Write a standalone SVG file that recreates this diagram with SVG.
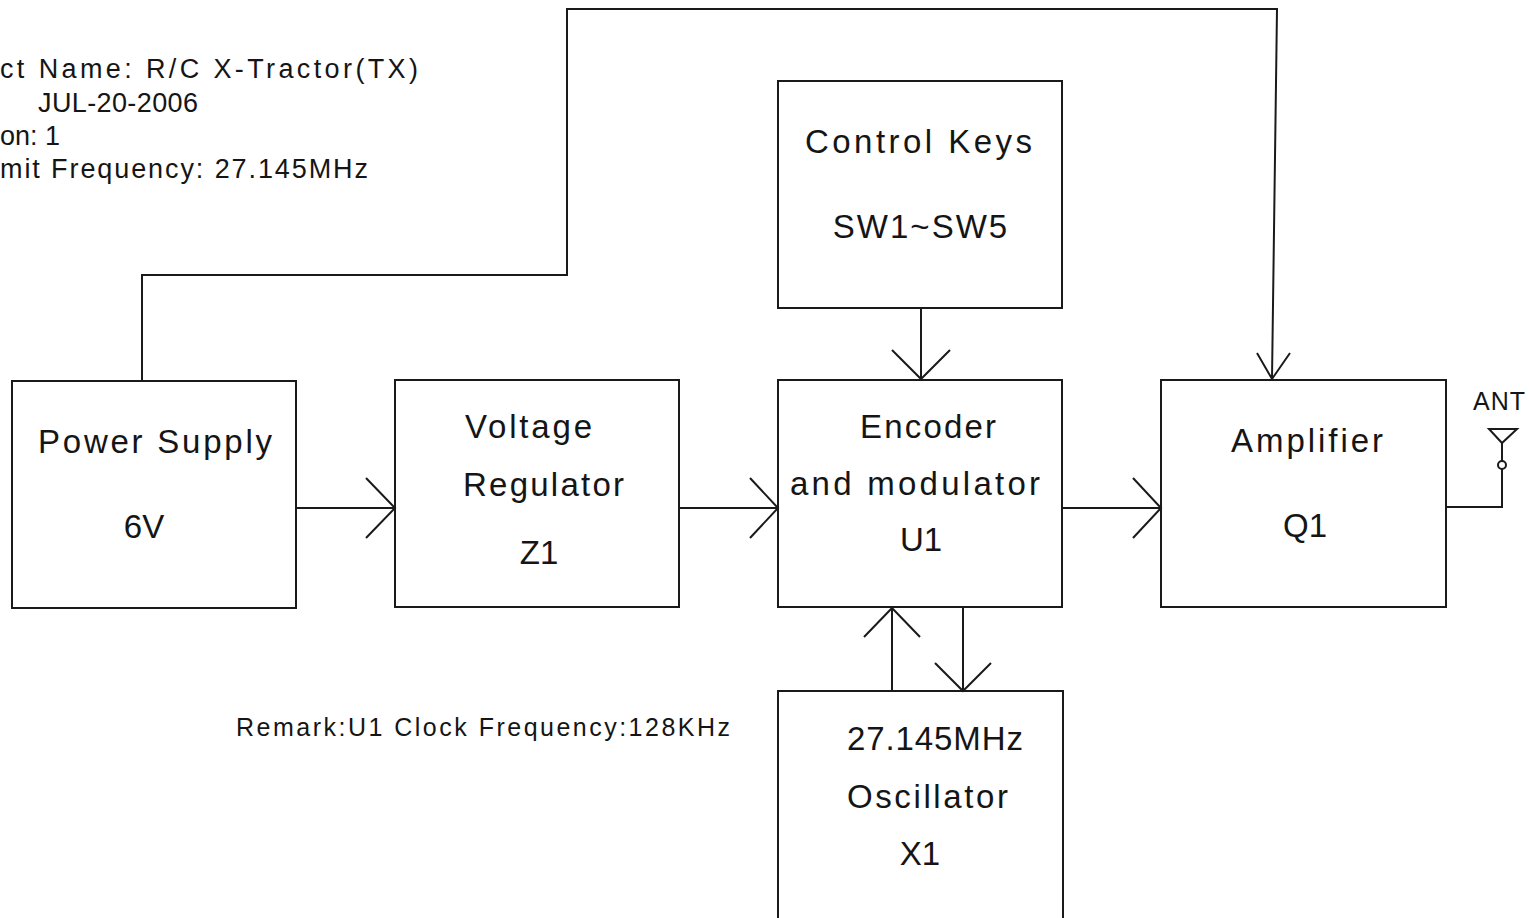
<svg xmlns="http://www.w3.org/2000/svg" width="1529" height="918" viewBox="0 0 1529 918">
<style>
.box{fill:none;stroke:#1a1a1a;stroke-width:2}
.ln{fill:none;stroke:#1a1a1a;stroke-width:2;stroke-linejoin:miter}
.t{font-family:"Liberation Sans",Arial,sans-serif;font-size:33px;fill:#151515}
.c{font-family:"Liberation Sans",Arial,sans-serif;font-size:33px;fill:#151515;text-anchor:middle}
.s{font-family:"Liberation Sans",Arial,sans-serif;font-size:27px;fill:#151515}
.r{font-family:"Liberation Sans",Arial,sans-serif;font-size:25px;fill:#151515}
</style>
<rect width="1529" height="918" fill="#fff"/>
<g id="header">
<text class="s" x="0" y="78" textLength="418" lengthAdjust="spacing">ct Name: R/C X-Tractor(TX)</text>
<text class="s" x="38" y="112" textLength="160" lengthAdjust="spacing">JUL-20-2006</text>
<text class="s" x="0" y="145" textLength="60" lengthAdjust="spacing">on: 1</text>
<text class="s" x="0" y="178" textLength="368" lengthAdjust="spacing">mit Frequency: 27.145MHz</text>
</g>
<g id="power-supply">
<rect class="box" x="12" y="381" width="284" height="227"/>
<text class="t" x="38" y="453" textLength="234" lengthAdjust="spacing">Power Supply</text>
<text class="c" x="144" y="538">6V</text>
</g>
<g id="voltage-regulator">
<rect class="box" x="395" y="380" width="284" height="227"/>
<text class="t" x="465" y="438" textLength="127" lengthAdjust="spacing">Voltage</text>
<text class="t" x="463" y="496" textLength="161" lengthAdjust="spacing">Regulator</text>
<text class="c" x="539" y="564">Z1</text>
</g>
<g id="control-keys">
<rect class="box" x="778" y="81" width="284" height="227"/>
<text class="t" x="805" y="153" textLength="227" lengthAdjust="spacing">Control Keys</text>
<text class="c" x="921" y="238" letter-spacing="2">SW1~SW5</text>
</g>
<g id="encoder">
<rect class="box" x="778" y="380" width="284" height="227"/>
<text class="t" x="860" y="438" textLength="136" lengthAdjust="spacing">Encoder</text>
<text class="t" x="790" y="495" textLength="250" lengthAdjust="spacing">and modulator</text>
<text class="c" x="921" y="551">U1</text>
</g>
<g id="amplifier">
<rect class="box" x="1161" y="380" width="285" height="227"/>
<text class="t" x="1231" y="452" textLength="152" lengthAdjust="spacing">Amplifier</text>
<text class="c" x="1305" y="537">Q1</text>
</g>
<g id="oscillator">
<rect class="box" x="778" y="691" width="285" height="240"/>
<text class="t" x="847" y="750" textLength="176" lengthAdjust="spacing">27.145MHz</text>
<text class="t" x="847" y="808" textLength="161" lengthAdjust="spacing">Oscillator</text>
<text class="c" x="920" y="865">X1</text>
</g>
<g id="antenna">
<text class="r" x="1473" y="410" textLength="52" lengthAdjust="spacing">ANT</text>
<path class="ln" d="M1446 507 H1502 V469"/>
<circle class="ln" cx="1502" cy="465" r="4"/>
<path class="ln" d="M1502 461 V442 M1489 429 H1517 L1502 443 Z"/>
</g>
<g id="remark">
<text class="r" x="236" y="736" textLength="494" lengthAdjust="spacing">Remark:U1 Clock Frequency:128KHz</text>
</g>
<g id="connectors">
<path class="ln" d="M296 508 H395 M366 478 L395 508 L366 538"/>
<path class="ln" d="M679 508 H778 M750 478 L778 508 L750 538"/>
<path class="ln" d="M1062 508 H1161 M1133 478 L1161 508 L1133 538"/>
<path class="ln" d="M921 308 V379 M892 350 L921 379 L950 350"/>
<path class="ln" d="M892 691 V608 M864 637 L892 608 L920 637"/>
<path class="ln" d="M963 607 V691 M935 663 L963 691 L991 663"/>
<path class="ln" d="M142 380 V275 H567 V9 H1277 L1272 379 M1257 353 L1272 379 L1290 353"/>
</g>
</svg>
